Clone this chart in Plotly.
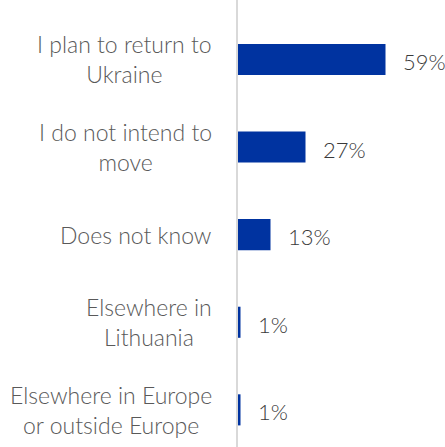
import plotly.graph_objects as go

categories = [
    "I plan to return to<br>Ukraine",
    "I do not intend to<br>move",
    "Does not know",
    "Elsewhere in<br>Lithuania",
    "Elsewhere in Europe<br>or outside Europe",
]
values = [59, 27, 13, 1, 1]
value_labels = ["59%", "27%", "13%", "1%", "1%"]

BAR_COLOR = "#0033a0"
TEXT_COLOR = "#595959"
VALUE_COLOR = "#3a3a3a"
FONT = "Lato, 'Open Sans', sans-serif"

fig = go.Figure(
    go.Bar(
        x=values,
        y=categories,
        orientation="h",
        marker=dict(color=BAR_COLOR, line=dict(width=0)),
        width=0.355,
        hoverinfo="skip",
    )
)

# value labels to the right of each bar
for cat, val, lab in zip(categories, values, value_labels):
    fig.add_annotation(
        x=val, y=cat, text=lab, showarrow=False,
        xanchor="left", yanchor="middle", xshift=15, yshift=-2,
        font=dict(family=FONT, size=22, color=VALUE_COLOR, weight=300),
    )

# category labels, centred per line, right edge next to the axis
for cat in categories:
    fig.add_annotation(
        x=0, xref="paper", y=cat, text=cat, showarrow=False,
        xanchor="right", yanchor="middle", align="center", xshift=-24,
        font=dict(family=FONT, size=23, color=TEXT_COLOR, weight=300),
    )

fig.update_layout(
    width=445, height=447,
    margin=dict(l=238, r=0, t=0, b=0),
    paper_bgcolor="white", plot_bgcolor="white",
    showlegend=False,
    xaxis=dict(range=[0, 82.8], visible=False, fixedrange=True),
    yaxis=dict(
        type="category",
        range=[4.424, -0.679],
        showline=True, linecolor="#d9d9d9", linewidth=2,
        showgrid=False, ticks="", showticklabels=False,
        fixedrange=True,
    ),
)

fig.write_html("out.html")
